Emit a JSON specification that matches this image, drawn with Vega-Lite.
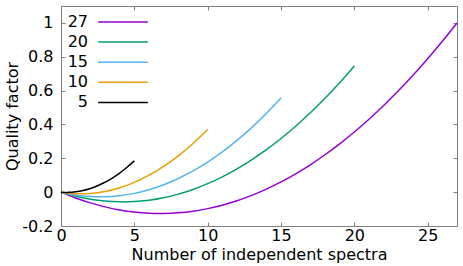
{
  "$schema": "https://vega.github.io/schema/vega-lite/v6.json",
  "width": 396,
  "height": 220,
  "autosize": {"type": "none"},
  "padding": {"left": 61, "top": 6, "right": 6, "bottom": 40},
  "config": {
    "font": "DejaVu Sans",
    "view": {"stroke": "#808080", "strokeWidth": 1},
    "axis": {
      "grid": false,
      "domain": false,
      "tickColor": "#808080",
      "tickSize": -4,
      "labelFont": "DejaVu Sans",
      "labelFontSize": 16,
      "labelColor": "#000000",
      "titleFont": "DejaVu Sans",
      "titleFontSize": 16,
      "titleFontWeight": "normal",
      "titleColor": "#000000"
    },
    "legend": {
      "orient": "none",
      "legendX": 53,
      "legendY": 7,
      "title": null,
      "symbolType": "M-3.1,0H3.1",
      "symbolSize": 256,
      "symbolStrokeWidth": 1.5,
      "labelFont": "DejaVu Sans",
      "labelFontSize": 16,
      "labelColor": "#000000",
      "labelAlign": "right",
      "labelOffset": -44,
      "rowPadding": 3.1
    }
  },
  "data": {
    "values": [
      {"N": "27", "n": 0, "q": 0},
      {"N": "27", "n": 1, "q": -0.0345},
      {"N": "27", "n": 2, "q": -0.0635},
      {"N": "27", "n": 3, "q": -0.087},
      {"N": "27", "n": 4, "q": -0.105},
      {"N": "27", "n": 5, "q": -0.1175},
      {"N": "27", "n": 6, "q": -0.1245},
      {"N": "27", "n": 7, "q": -0.126},
      {"N": "27", "n": 8, "q": -0.122},
      {"N": "27", "n": 9, "q": -0.1124},
      {"N": "27", "n": 10, "q": -0.0974},
      {"N": "27", "n": 11, "q": -0.0769},
      {"N": "27", "n": 12, "q": -0.0508},
      {"N": "27", "n": 13, "q": -0.0193},
      {"N": "27", "n": 14, "q": 0.0178},
      {"N": "27", "n": 15, "q": 0.0603},
      {"N": "27", "n": 16, "q": 0.1084},
      {"N": "27", "n": 17, "q": 0.1619},
      {"N": "27", "n": 18, "q": 0.221},
      {"N": "27", "n": 19, "q": 0.2855},
      {"N": "27", "n": 20, "q": 0.3556},
      {"N": "27", "n": 21, "q": 0.4312},
      {"N": "27", "n": 22, "q": 0.5122},
      {"N": "27", "n": 23, "q": 0.5988},
      {"N": "27", "n": 24, "q": 0.6909},
      {"N": "27", "n": 25, "q": 0.7885},
      {"N": "27", "n": 26, "q": 0.8916},
      {"N": "27", "n": 27, "q": 1.0},
      {"N": "20", "n": 0, "q": 0},
      {"N": "20", "n": 1, "q": -0.024},
      {"N": "20", "n": 2, "q": -0.0416},
      {"N": "20", "n": 3, "q": -0.0527},
      {"N": "20", "n": 4, "q": -0.0573},
      {"N": "20", "n": 5, "q": -0.0556},
      {"N": "20", "n": 6, "q": -0.0473},
      {"N": "20", "n": 7, "q": -0.0326},
      {"N": "20", "n": 8, "q": -0.0115},
      {"N": "20", "n": 9, "q": 0.0161},
      {"N": "20", "n": 10, "q": 0.0501},
      {"N": "20", "n": 11, "q": 0.0906},
      {"N": "20", "n": 12, "q": 0.1375},
      {"N": "20", "n": 13, "q": 0.1909},
      {"N": "20", "n": 14, "q": 0.2507},
      {"N": "20", "n": 15, "q": 0.317},
      {"N": "20", "n": 16, "q": 0.3897},
      {"N": "20", "n": 17, "q": 0.4688},
      {"N": "20", "n": 18, "q": 0.5544},
      {"N": "20", "n": 19, "q": 0.6465},
      {"N": "20", "n": 20, "q": 0.745},
      {"N": "15", "n": 0, "q": 0},
      {"N": "15", "n": 1, "q": -0.0169},
      {"N": "15", "n": 2, "q": -0.026},
      {"N": "15", "n": 3, "q": -0.0275},
      {"N": "15", "n": 4, "q": -0.0212},
      {"N": "15", "n": 5, "q": -0.0073},
      {"N": "15", "n": 6, "q": 0.0144},
      {"N": "15", "n": 7, "q": 0.0438},
      {"N": "15", "n": 8, "q": 0.0808},
      {"N": "15", "n": 9, "q": 0.1256},
      {"N": "15", "n": 10, "q": 0.178},
      {"N": "15", "n": 11, "q": 0.2382},
      {"N": "15", "n": 12, "q": 0.306},
      {"N": "15", "n": 13, "q": 0.3816},
      {"N": "15", "n": 14, "q": 0.4648},
      {"N": "15", "n": 15, "q": 0.5558},
      {"N": "10", "n": 0, "q": 0},
      {"N": "10", "n": 1, "q": -0.0087},
      {"N": "10", "n": 2, "q": -0.0073},
      {"N": "10", "n": 3, "q": 0.0043},
      {"N": "10", "n": 4, "q": 0.0261},
      {"N": "10", "n": 5, "q": 0.058},
      {"N": "10", "n": 6, "q": 0.1001},
      {"N": "10", "n": 7, "q": 0.1523},
      {"N": "10", "n": 8, "q": 0.2147},
      {"N": "10", "n": 9, "q": 0.2873},
      {"N": "10", "n": 10, "q": 0.37},
      {"N": "5", "n": 0, "q": 0},
      {"N": "5", "n": 0.5, "q": -0.0013},
      {"N": "5", "n": 1, "q": 0.0019},
      {"N": "5", "n": 1.5, "q": 0.0094},
      {"N": "5", "n": 2, "q": 0.0214},
      {"N": "5", "n": 2.5, "q": 0.0377},
      {"N": "5", "n": 3, "q": 0.0584},
      {"N": "5", "n": 3.5, "q": 0.0835},
      {"N": "5", "n": 4, "q": 0.113},
      {"N": "5", "n": 4.5, "q": 0.147},
      {"N": "5", "n": 5, "q": 0.185}
    ]
  },
  "layer": [
    {
      "mark": {"type": "line", "strokeWidth": 1.5, "interpolate": "natural"},
      "encoding": {
        "x": {
          "field": "n",
          "type": "quantitative",
          "scale": {"domain": [0, 27], "nice": false, "zero": false},
          "axis": {
            "orient": "bottom",
            "values": [0, 5, 10, 15, 20, 25],
            "title": "Number of independent spectra",
            "labelPadding": 5,
            "titlePadding": 3,
            "labelFlush": false
          }
        },
        "y": {
          "field": "q",
          "type": "quantitative",
          "scale": {"domain": [-0.2, 1.1], "nice": false, "zero": false},
          "axis": {
            "orient": "left",
            "values": [-0.2, 0, 0.2, 0.4, 0.6, 0.8, 1],
            "labelExpr": "toString(round(datum.value * 10) / 10)",
            "title": "Quality factor",
            "labelPadding": 12,
            "titlePadding": 1,
            "labelFlush": false
          }
        },
        "color": {
          "field": "N",
          "type": "nominal",
          "scale": {
            "domain": ["27", "20", "15", "10", "5"],
            "range": ["#9400d3", "#009e73", "#56b4e9", "#e69f00", "#000000"]
          },
          "legend": {"title": null}
        }
      }
    },
    {
      "mark": {"type": "point", "opacity": 0},
      "encoding": {
        "x": {
          "field": "n",
          "type": "quantitative",
          "axis": {"orient": "top", "values": [0, 5, 10, 15, 20, 25], "labels": false, "title": null}
        },
        "y": {
          "field": "q",
          "type": "quantitative",
          "axis": {"orient": "right", "values": [-0.2, 0, 0.2, 0.4, 0.6, 0.8, 1], "labels": false, "title": null}
        }
      }
    }
  ]
}
